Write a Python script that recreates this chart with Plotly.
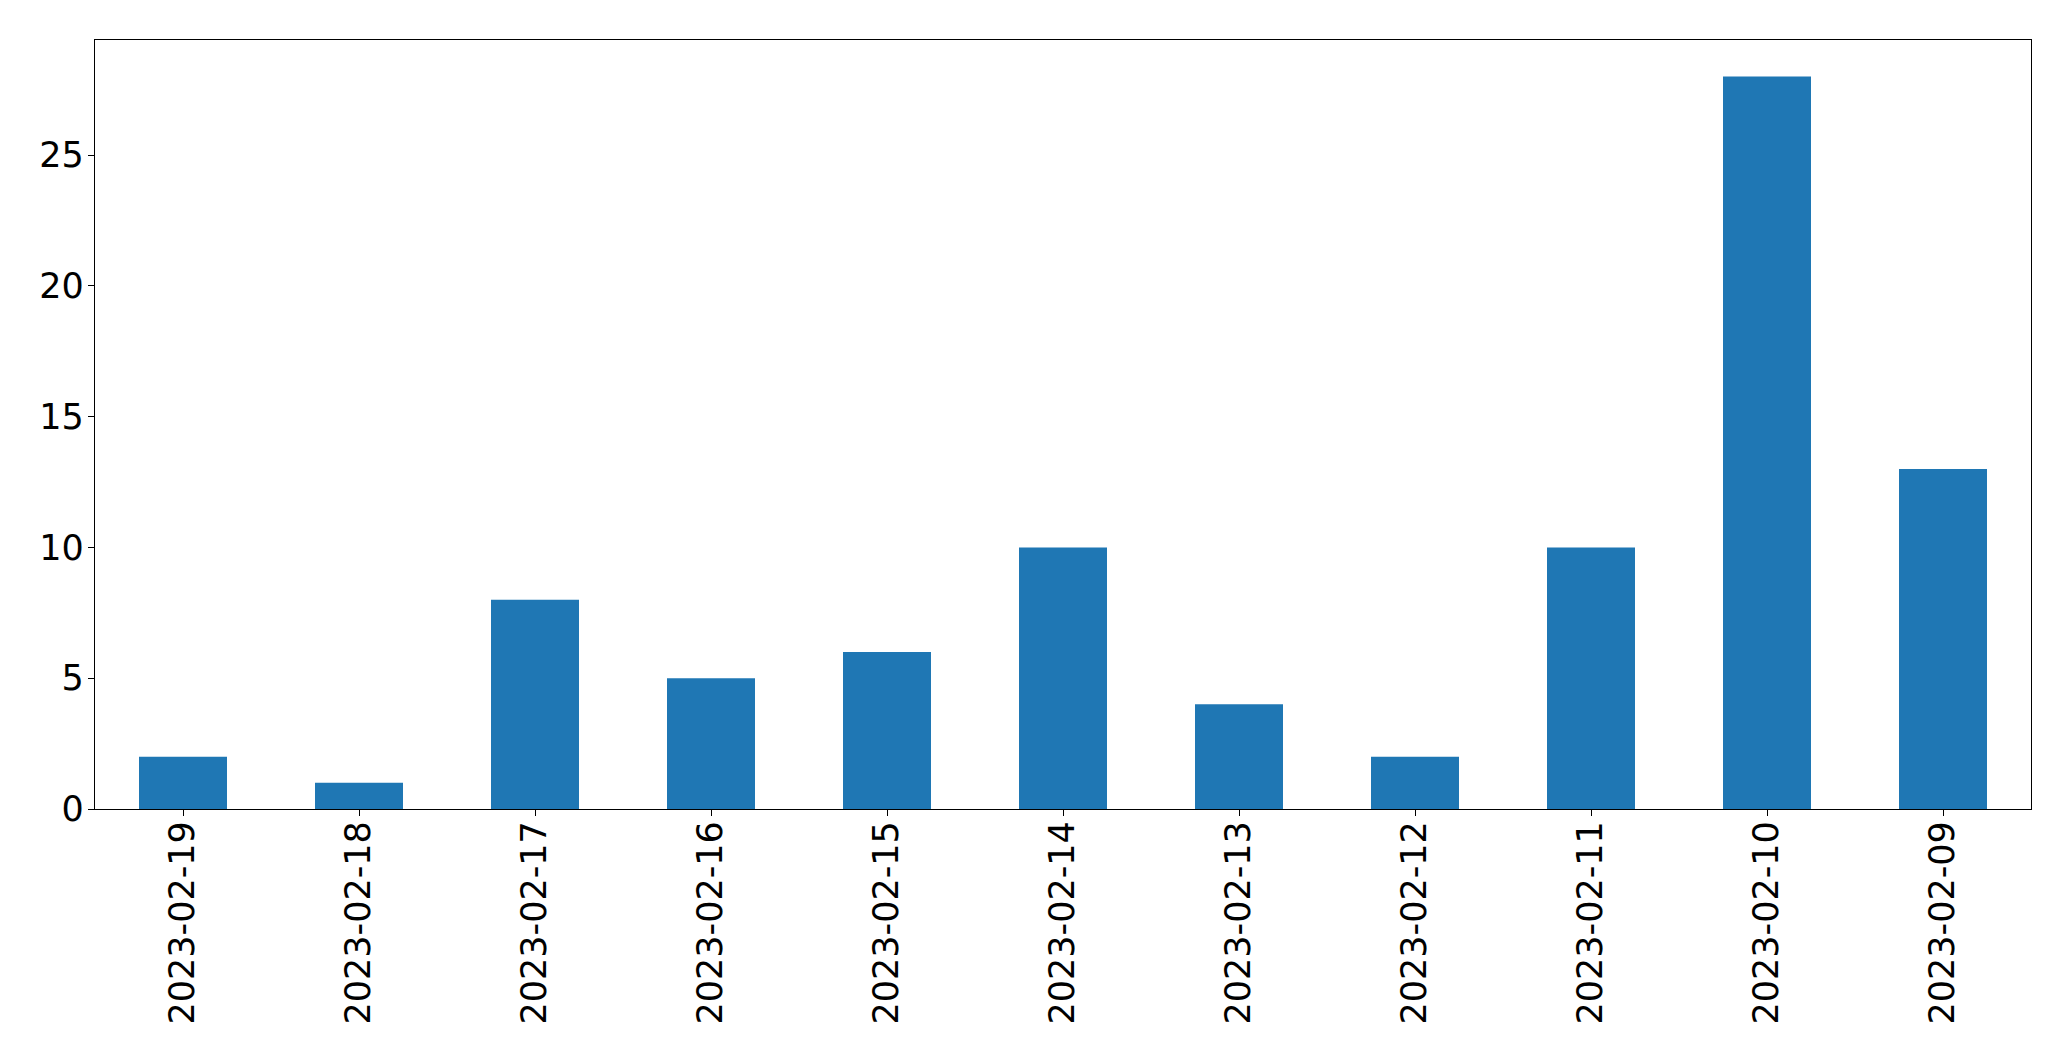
import plotly.graph_objects as go

dates = ["2023-02-19", "2023-02-18", "2023-02-17", "2023-02-16", "2023-02-15",
         "2023-02-14", "2023-02-13", "2023-02-12", "2023-02-11", "2023-02-10", "2023-02-09"]
counts = [2, 1, 8, 5, 6, 10, 4, 2, 10, 28, 13]
y_ticks = [0, 5, 10, 15, 20, 25]

fig = go.Figure(go.Bar(x=dates, y=counts, marker_color="#1f77b4", marker_line_width=0, width=0.5))

font = dict(family="DejaVu Sans", size=35, color="black")
fig.update_layout(
    width=2063, height=1053,
    margin=dict(l=86.5, r=39.5, t=31.5, b=252),
    paper_bgcolor="white", plot_bgcolor="white",
    font=font, showlegend=False,
)
fig.update_xaxes(type="category", range=[-0.5, 10.5], tickangle=-90,
                 showline=True, linecolor="black", linewidth=1.3, mirror=True,
                 ticks="outside", ticklen=6, tickcolor="black", tickwidth=1.3,
                 ticklabelstandoff=-9,
                 showgrid=False, zeroline=False, tickfont=font)
fig.update_yaxes(range=[0, 29.4], tickvals=y_ticks,
                 showline=True, linecolor="black", linewidth=1.3, mirror=True,
                 ticks="outside", ticklen=6, tickcolor="black", tickwidth=1.3,
                 ticklabelstandoff=-3,
                 showgrid=False, zeroline=False, tickfont=font)
fig.write_html("out.html")
